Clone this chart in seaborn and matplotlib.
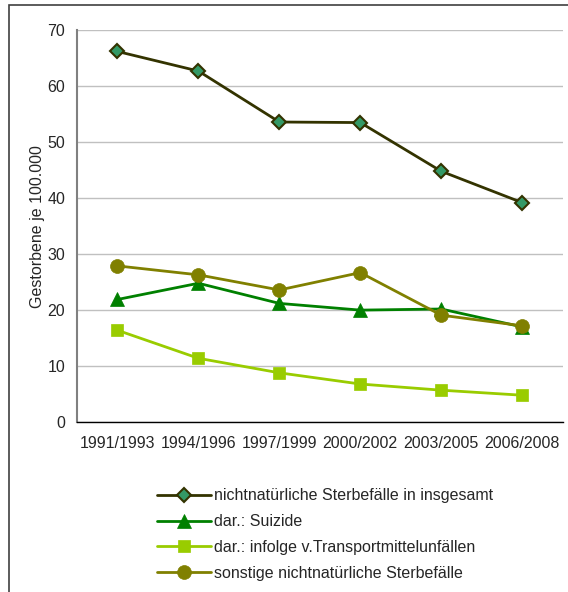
import matplotlib
matplotlib.use("Agg")
import matplotlib.pyplot as plt
import seaborn as sns
import pandas as pd
from matplotlib.patches import Rectangle

# data
periods = ["1991/1993", "1994/1996", "1997/1999", "2000/2002", "2003/2005", "2006/2008"]
insgesamt = [66.2, 62.7, 53.6, 53.5, 44.8, 39.2]
suizide = [21.9, 24.8, 21.2, 20.0, 20.2, 17.0]
transport = [16.4, 11.4, 8.8, 6.8, 5.7, 4.8]
sonstige = [27.9, 26.3, 23.6, 26.7, 19.1, 17.2]

labels = ["nichtnatürliche Sterbefälle in insgesamt",
          "dar.: Suizide",
          "dar.: infolge v.Transportmittelunfällen",
          "sonstige nichtnatürliche Sterbefälle"]

sns.set_style("white")
plt.rcParams["font.family"] = ["Liberation Sans", "DejaVu Sans"]
FS = 11.5

fig = plt.figure(figsize=(5.68, 5.92), dpi=100)
ax = fig.add_axes([0.1356, 0.287, 0.855, 0.662])

styles = [
    (insgesamt, "#333300", "D", 7.5, "#339966", "#333300", 1.5),
    (suizide, "#008000", "^", 10, "#008000", "#008000", 0.5),
    (transport, "#99CC00", "s", 9, "#99CC00", "#99CC00", 0.5),
    (sonstige, "#808000", "o", 10, "#808000", "#808000", 0.5),
]

for (vals, col, mk, ms, fc, ec, mew), lab in zip(styles, labels):
    df = pd.DataFrame({"Zeitraum": periods, "Wert": vals})
    sns.lineplot(data=df, x="Zeitraum", y="Wert", ax=ax, color=col, lw=2,
                 marker=mk, markersize=ms, markerfacecolor=fc,
                 markeredgecolor=ec, markeredgewidth=mew, label=lab)

ax.set_ylim(0, 70)
ax.set_yticks(range(0, 71, 10))
ax.set_xlim(-0.5, 5.5)
ax.set_xticks(range(len(periods)))
ax.set_xticklabels(periods, fontsize=FS)
ax.set_xticks([i - 0.5 for i in range(len(periods) + 1)], minor=True)
ax.tick_params(axis="x", which="major", length=0, pad=10)
ax.tick_params(axis="x", which="minor", length=5, width=1, color="black")
ax.tick_params(axis="y", length=5, width=1, color="#808080", labelsize=FS)
ax.set_xlabel("")
ax.set_ylabel("Gestorbene je 100.000", fontsize=FS, labelpad=2)

ax.grid(axis="y", color="#c0c0c0", lw=1)
ax.set_axisbelow(True)
for s in ["top", "right"]:
    ax.spines[s].set_visible(False)
ax.spines["left"].set_color("#808080")
ax.spines["left"].set_linewidth(1.5)
ax.spines["bottom"].set_color("black")
ax.spines["bottom"].set_linewidth(1)

leg = ax.legend(loc="upper left", bbox_to_anchor=(0.265, 0.186), bbox_transform=fig.transFigure,
                frameon=False, fontsize=FS, handlelength=3.4, handletextpad=0.15,
                labelspacing=0.68, borderaxespad=0)

# outer frame of the chart area (cropped on right and bottom)
fig.patches.append(Rectangle((9 / 568, -0.1), 1.2, 1 - 5 / 592 + 0.1, transform=fig.transFigure,
                             fill=False, edgecolor="#404040", lw=1.2))

fig.savefig("out.png", dpi=100)
plt.close(fig)
